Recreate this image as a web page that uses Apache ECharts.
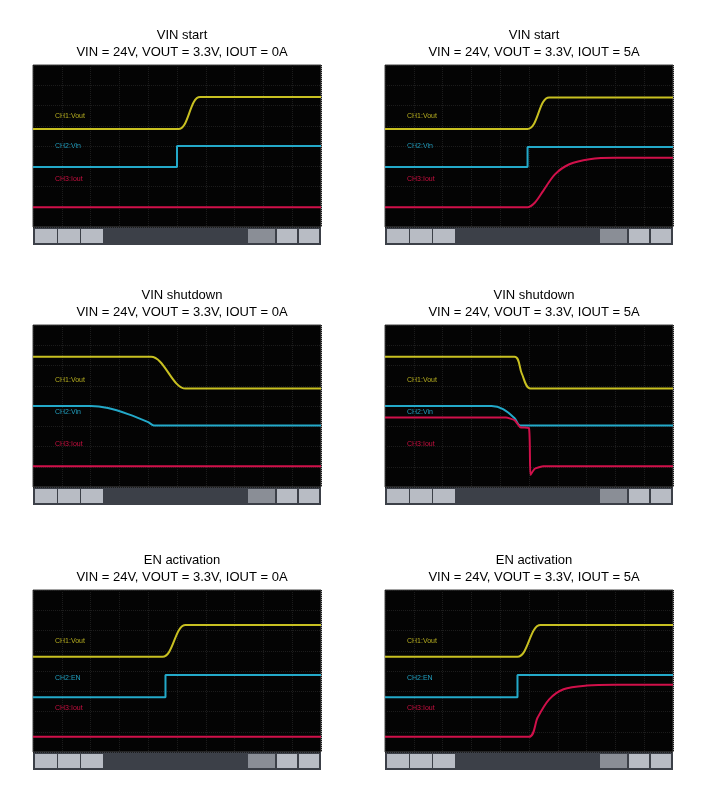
<!DOCTYPE html>
<html><head><meta charset="utf-8">
<script src="https://cdn.jsdelivr.net/npm/echarts@6/dist/echarts.min.js"></script>
<style>html,body{margin:0;background:#fff}#c{width:703px;height:797px}</style></head>
<body><div id="c"></div>
<script>
const titles = [
 ["VIN start","VIN = 24V, VOUT = 3.3V, IOUT = 0A"],
 ["VIN start","VIN = 24V, VOUT = 3.3V, IOUT = 5A"],
 ["VIN shutdown","VIN = 24V, VOUT = 3.3V, IOUT = 0A"],
 ["VIN shutdown","VIN = 24V, VOUT = 3.3V, IOUT = 5A"],
 ["EN activation","VIN = 24V, VOUT = 3.3V, IOUT = 0A"],
 ["EN activation","VIN = 24V, VOUT = 3.3V, IOUT = 5A"]
];
const ch2Names = ["CH2:Vin","CH2:Vin","CH2:Vin","CH2:Vin","CH2:EN","CH2:EN"];
// traces: [time (div), level (div)]
const vout = [
 [[0,4.84],[5.05,4.84],[5.8,6.42],[10,6.42]],
 [[0,4.84],[4.95,4.84],[5.7,6.4],[10,6.4]],
 [[0,6.43],[4.1,6.43],[5.3,4.86],[10,4.86]],
 [[0,6.43],[4.5,6.43],[4.75,5.6],[5.05,4.86],[10,4.86]],
 [[0,4.7],[4.5,4.7],[5.3,6.27],[10,6.27]],
 [[0,4.7],[4.6,4.7],[5.4,6.27],[10,6.27]]
];
const ch2 = [
 [[0,2.96],[5.0,2.96],[5.0,4.0],[10,4.0]],
 [[0,2.96],[4.95,2.96],[4.95,3.95],[10,3.95]],
 [[0,4.0],[2.0,4.0],[2.6,3.9],[3.3,3.6],[4.0,3.2],[4.2,3.04],[10,3.04]],
 [[0,4.0],[3.7,4.0],[4.1,3.85],[4.5,3.4],[4.7,3.04],[10,3.04]],
 [[0,2.7],[4.6,2.7],[4.6,3.8],[10,3.8]],
 [[0,2.7],[4.6,2.7],[4.6,3.8],[10,3.8]]
];
const iout = [
 [[0,0.98],[10,0.98]],
 [[0,0.98],[4.95,0.98],[5.2,1.2],[5.5,1.8],[5.9,2.6],[6.4,3.1],[7.1,3.35],[8.0,3.42],[10,3.42]],
 [[0,1.03],[10,1.03]],
 [[0,3.43],[4.2,3.43],[4.5,3.3],[4.7,2.95],[5.0,2.9],[5.05,0.6],[5.2,0.9],[5.5,1.03],[10,1.03]],
 [[0,0.75],[10,0.75]],
 [[0,0.75],[5.0,0.75],[5.3,1.7],[5.7,2.6],[6.2,3.1],[7.0,3.28],[8.0,3.32],[10,3.32]]
];
const stepCh2=[true,true,false,false,true,true];
const lefts=[33,385], tops=[65,325,590], W=288, H=162;
const grids=[],xAxes=[],yAxes=[],series=[],graphics=[],tt=[];
for(let i=0;i<6;i++){
  const L=lefts[i%2], T=tops[Math.floor(i/2)];
  grids.push({left:L,top:T,width:W,height:H,show:true,backgroundColor:'#040404',borderColor:'#444',borderWidth:1});
  xAxes.push({type:'value',gridIndex:i,min:0,max:10,interval:1,axisLine:{show:false},axisTick:{show:false},axisLabel:{show:false},
    splitLine:{show:true,lineStyle:{color:'#1c1c1c',type:'dotted'}}});
  yAxes.push({type:'value',gridIndex:i,min:0,max:8,interval:1,axisLine:{show:false},axisTick:{show:false},axisLabel:{show:false},
    splitLine:{show:true,lineStyle:{color:'#1c1c1c',type:'dotted'}}});
  const mk=(d,c,s)=>({type:'line',xAxisIndex:i,yAxisIndex:i,data:d,symbol:'none',smooth:s,lineStyle:{color:c,width:2},z:5});
  series.push(mk(vout[i],'#c8c021',0.3),mk(ch2[i],'#23a9c9',stepCh2[i]?0:0.3),mk(iout[i],'#d0104a',i===3?0.15:0.3));
  tt.push({text:titles[i][0]+"\n"+titles[i][1],left:L+W/2,top:T-43,textAlign:'center',
    textStyle:{fontSize:13,fontWeight:'normal',color:'#000',fontFamily:'Liberation Sans',lineHeight:17}});
  graphics.push({type:'rect',shape:{x:L,y:T+H,width:W,height:18},style:{fill:'#3c4048'}});
  [2,25,48].forEach(o=>graphics.push({type:'rect',shape:{x:L+o,y:T+H+2,width:22,height:14},style:{fill:'#b8bcc4'}}));
  [244,266].forEach(o=>graphics.push({type:'rect',shape:{x:L+o,y:T+H+2,width:20,height:14},style:{fill:'#b8bcc4'}}));
  graphics.push({type:'rect',shape:{x:L+215,y:T+H+2,width:27,height:14},style:{fill:'#8a8e96'}});
  const ys = i<2?[48,78,111]:(i<4?[52,84,116]:[48,85,115]);
  graphics.push({type:'text',x:L+22,y:T+ys[0],style:{text:'CH1:Vout',fill:'#b5ad20',fontSize:7}});
  graphics.push({type:'text',x:L+22,y:T+ys[1],style:{text:ch2Names[i],fill:'#22a0c0',fontSize:7}});
  graphics.push({type:'text',x:L+22,y:T+ys[2],style:{text:'CH3:Iout',fill:'#c81040',fontSize:7}});
}
const chart=echarts.init(document.getElementById('c'));
chart.setOption({animation:false,backgroundColor:'#fff',title:tt,grid:grids,xAxis:xAxes,yAxis:yAxes,series:series,graphic:graphics});
</script></body></html>
